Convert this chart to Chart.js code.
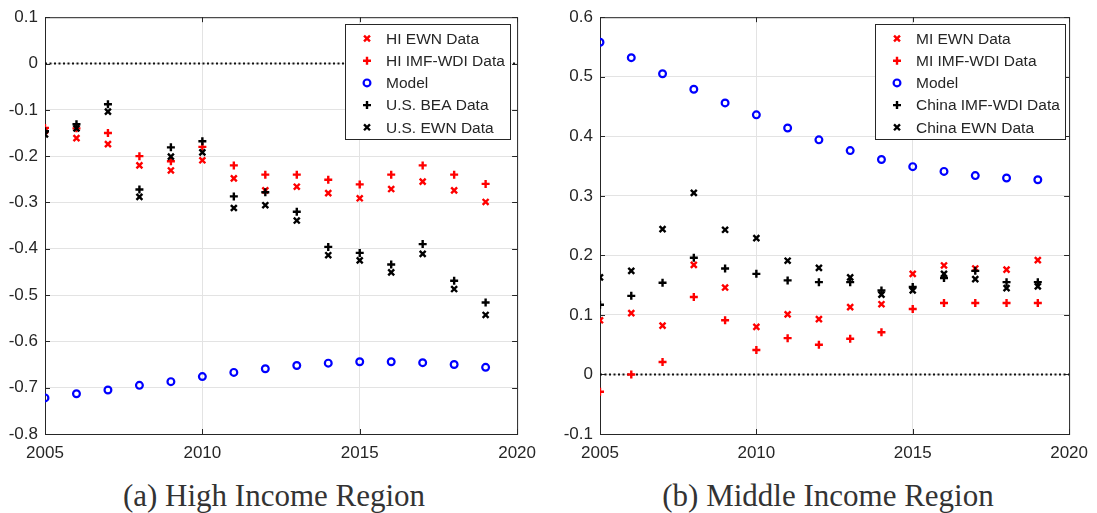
<!DOCTYPE html>
<html>
<head>
<meta charset="utf-8">
<script src="https://cdn.jsdelivr.net/npm/chart.js@4.4.1/dist/chart.umd.min.js"></script>
<style>
  body { margin:0; background:#fff; width:1097px; height:513px; overflow:hidden; position:relative; }
  .panel { position:absolute; top:0; height:470px; }
  .cap { position:absolute; top:478px; font-family:"Liberation Serif", serif; font-size:31px; color:#333; text-align:center; white-space:nowrap; }
</style>
</head>
<body>
<div class="panel" style="left:0;width:545px"><canvas id="hiChart"></canvas></div>
<div class="panel" style="left:555px;width:542px"><canvas id="miChart"></canvas></div>
<div class="cap" style="left:0;width:548px">(a) High Income Region</div>
<div class="cap" style="left:555px;width:546px">(b) Middle Income Region</div>
<script>
// años
const years = [2005,2006,2007,2008,2009,2010,2011,2012,2013,2014,2015,2016,2017,2018,2019];
const xTicks = [2005, 2010, 2015, 2020];

// (a) High Income
const hiEwn   = [-0.145,-0.161,-0.174,-0.220,-0.231,-0.209,-0.248,-0.274,-0.266,-0.280,-0.291,-0.271,-0.255,-0.274,-0.299];
const hiImf   = [-0.139,-0.140,-0.150,-0.200,-0.211,-0.180,-0.220,-0.240,-0.240,-0.251,-0.261,-0.240,-0.220,-0.240,-0.260];
const hiModel = [-0.722,-0.713,-0.705,-0.695,-0.687,-0.676,-0.667,-0.659,-0.652,-0.647,-0.644,-0.644,-0.646,-0.650,-0.656];
const usBea   = [-0.146,-0.131,-0.088,-0.272,-0.181,-0.168,-0.287,-0.278,-0.320,-0.396,-0.409,-0.434,-0.390,-0.469,-0.516];
const usEwn   = [-0.153,-0.140,-0.104,-0.288,-0.201,-0.192,-0.312,-0.306,-0.339,-0.414,-0.425,-0.451,-0.411,-0.487,-0.543];
const hiLabels = ['HI EWN Data','HI IMF-WDI Data','Model','U.S. BEA Data','U.S. EWN Data'];

// (b) Middle Income
const miEwn    = [0.091,0.103,0.082,0.184,0.146,0.080,0.101,0.093,0.113,0.118,0.169,0.183,0.178,0.176,0.192];
const miImf    = [-0.029,0.000,0.021,0.130,0.091,0.041,0.061,0.050,0.060,0.071,0.110,0.120,0.120,0.120,0.120];
const miModel  = [0.558,0.532,0.505,0.479,0.456,0.436,0.414,0.394,0.376,0.361,0.349,0.341,0.334,0.330,0.327];
const chinaImf = [0.117,0.132,0.154,0.196,0.178,0.169,0.158,0.155,0.155,0.141,0.147,0.162,0.174,0.155,0.155];
const chinaEwn = [0.163,0.174,0.244,0.305,0.243,0.229,0.191,0.179,0.163,0.134,0.141,0.169,0.160,0.145,0.148];
const miLabels = ['MI EWN Data','MI IMF-WDI Data','Model','China IMF-WDI Data','China EWN Data'];

const AXIS = '#262626';
const GRID = '#e3e3e3';

function pts(vals){ return years.map((y,i)=>({x:y, y:vals[i]})); }

function serie(label, vals, color, style, i){
  const circ = style === 'circle';
  const r = circ ? 3.4 : (style === 'cross' ? 4 : 4.2);
  return {
    label: label, data: pts(vals), showLine:false,
    pointStyle: style, pointRadius: r, pointHoverRadius: r,
    pointBorderWidth: circ ? 2.2 : 2.4, pointBackgroundColor: circ ? 'rgba(0,0,0,0)' : color,
    borderColor: color, backgroundColor: color, order: 10 - i
  };
}

// caja, marcas hacia dentro (estilo matlab)
const cajaPlugin = {
  id: 'caja',
  beforeDatasetsDraw(chart){
    const {ctx, chartArea:a, scales} = chart;
    ctx.save();
    ctx.strokeStyle = AXIS; ctx.lineWidth = 1;
    ctx.strokeRect(a.left+0.5, a.top+0.5, a.right-a.left, a.bottom-a.top);
    ctx.beginPath();
    scales.y.ticks.forEach(t=>{
      const p = Math.round(scales.y.getPixelForValue(t.value))+0.5;
      ctx.moveTo(a.left, p); ctx.lineTo(a.left+5, p);
      ctx.moveTo(a.right, p); ctx.lineTo(a.right-5, p);
    });
    scales.x.ticks.forEach(t=>{
      const p = Math.round(scales.x.getPixelForValue(t.value))+0.5;
      ctx.moveTo(p, a.bottom); ctx.lineTo(p, a.bottom-5);
      ctx.moveTo(p, a.top); ctx.lineTo(p, a.top+5);
    });
    ctx.stroke();
    ctx.restore();
  }
};

// leyenda dentro del area
const leyendaPlugin = {
  id: 'leyenda',
  afterDraw(chart, args, opts){
    const ctx = chart.ctx;
    const items = chart.data.datasets.filter(d => d.label);
    ctx.save();
    ctx.fillStyle = '#fff';
    ctx.fillRect(opts.x, opts.y, opts.w, opts.h);
    ctx.strokeStyle = AXIS; ctx.lineWidth = 1;
    ctx.strokeRect(opts.x+0.5, opts.y+0.5, opts.w, opts.h);
    ctx.font = '15.5px "Liberation Sans", Arial, sans-serif';
    ctx.textBaseline = 'middle';
    items.forEach((d,i)=>{
      const yy = opts.y + 14.5 + i*22.2;
      ctx.strokeStyle = d.borderColor; ctx.fillStyle = d.pointBackgroundColor;
      ctx.lineWidth = d.pointBorderWidth;
      Chart.helpers.drawPoint(ctx, {pointStyle:d.pointStyle, radius:d.pointRadius, rotation:0, borderWidth:d.pointBorderWidth}, opts.x+22, yy);
      ctx.fillStyle = AXIS;
      ctx.fillText(d.label, opts.x+41, yy+1);
    });
    ctx.restore();
  }
};

function hacerGrafico(id, series, ymin, ymax, leyenda){
  const datasets = series.slice();
  datasets.push({
    label: '', type:'line', data: [{x:xTicks[0], y:0},{x:xTicks[xTicks.length-1], y:0}],
    borderColor:'#111', borderWidth:2, borderDash:[2,2.5], pointRadius:0, order: 20
  });
  return new Chart(document.getElementById(id), {
    type: 'scatter',
    data: { datasets: datasets },
    options: {
      responsive:false, animation:false, devicePixelRatio: 1,
      layout: { padding: {top:15, right: leyenda.rightPad, left:0, bottom:0} },
      plugins: { legend:{display:false}, tooltip:{enabled:false}, leyenda: leyenda },
      scales: {
        x: {
          type:'linear', min:xTicks[0], max:xTicks[xTicks.length-1],
          afterBuildTicks: s => { s.ticks = xTicks.map(v=>({value:v})); },
          grid: { color:GRID, drawTicks:false },
          border: { display:false },
          ticks: { color:AXIS, padding:9, font:{family:'"Liberation Sans", Arial, sans-serif', size:17}, callback: v => String(v) },
          afterFit: s => { s.height = 36; }
        },
        y: {
          min:ymin, max:ymax,
          grid: { color:GRID, drawTicks:false },
          border: { display:false },
          ticks: { color:AXIS, padding:7, stepSize:0.1, font:{family:'"Liberation Sans", Arial, sans-serif', size:17},
                   callback: v => Math.abs(v) < 1e-9 ? '0' : (+v).toFixed(1) },
          afterFit: s => { s.width = 45; }
        }
      }
    },
    plugins: [cajaPlugin, leyendaPlugin]
  });
}

document.getElementById('hiChart').width = 545;
document.getElementById('hiChart').height = 470;
document.getElementById('miChart').width = 542;
document.getElementById('miChart').height = 470;

hacerGrafico('hiChart', [
  serie(hiLabels[0], hiEwn,   '#ff0000', 'crossRot', 0),
  serie(hiLabels[1], hiImf,   '#ff0000', 'cross',    1),
  serie(hiLabels[2], hiModel, '#0000ff', 'circle',   2),
  serie(hiLabels[3], usBea,   '#000000', 'cross',    3),
  serie(hiLabels[4], usEwn,   '#000000', 'crossRot', 4)
], -0.8, 0.1, {x:345, y:24, w:165, h:115, rightPad:27});

hacerGrafico('miChart', [
  serie(miLabels[0], miEwn,    '#ff0000', 'crossRot', 0),
  serie(miLabels[1], miImf,    '#ff0000', 'cross',    1),
  serie(miLabels[2], miModel,  '#0000ff', 'circle',   2),
  serie(miLabels[3], chinaImf, '#000000', 'cross',    3),
  serie(miLabels[4], chinaEwn, '#000000', 'crossRot', 4)
], -0.1, 0.6, {x:320, y:24, w:190, h:115, rightPad:24});
</script>
</body>
</html>
